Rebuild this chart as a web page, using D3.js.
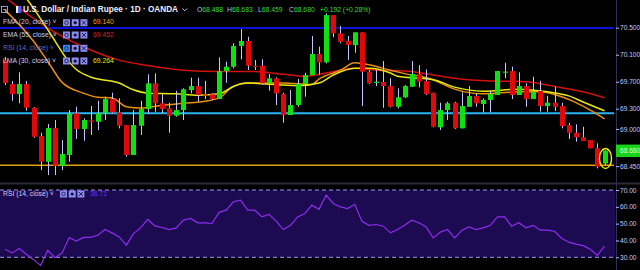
<!DOCTYPE html>
<html><head><meta charset="utf-8">
<script src="https://cdn.jsdelivr.net/npm/d3@7"></script>
<style>
html,body{margin:0;padding:0;background:#000;}
svg{display:block;}
text{font-family:"Liberation Sans",Arial,sans-serif;}
</style></head><body>
<svg id="c" width="640" height="270"></svg>
<script>
// ---------- DATA ----------
const opens = [70.021,69.666,69.517,69.666,69.314,68.895,68.514,69.014,68.455,68.614,69.231,68.999,69.128,69.107,69.231,69.443,69.246,69.058,68.614,69.048,69.295,69.676,69.380,69.306,69.196,69.280,69.577,69.636,69.513,69.513,69.443,69.858,69.922,70.229,70.303,69.937,69.937,69.676,69.750,69.517,69.206,69.354,69.666,69.799,70.110,69.987,70.688,70.417,70.307,70.243,70.431,69.848,69.690,69.695,69.636,69.329,69.469,69.626,69.814,69.710,69.537,69.024,69.280,69.389,69.009,69.329,69.488,69.369,69.429,69.503,69.840,69.858,69.503,69.636,69.443,69.562,69.340,69.389,69.340,69.058,68.944,68.876,68.836,68.713,68.488];
const highs = [70.066,69.710,69.839,69.710,69.325,68.944,69.073,69.132,68.836,69.280,69.329,69.157,69.340,69.418,69.477,69.537,69.454,69.058,69.280,69.418,69.809,69.824,69.517,69.389,69.566,69.602,69.759,69.759,69.714,69.528,70.061,69.996,70.269,70.480,70.366,70.021,70.031,69.814,69.765,69.537,69.577,69.740,69.833,70.377,70.218,70.713,70.688,70.525,70.377,70.431,70.431,69.873,69.873,70.006,69.750,69.602,69.650,70.006,69.947,69.883,69.537,69.389,69.403,69.403,69.543,69.636,69.528,69.454,69.562,69.858,69.981,69.922,69.839,69.676,69.774,69.714,69.492,69.626,69.389,69.092,69.069,69.033,68.836,68.787,68.683];
const lows = [69.651,69.418,69.380,69.270,68.870,68.391,68.317,68.317,68.391,68.514,68.851,68.826,68.910,68.984,69.132,69.231,69.009,68.589,68.614,68.910,69.231,69.255,69.236,68.944,69.181,69.132,69.528,69.403,69.443,69.429,69.443,69.685,69.898,70.031,69.873,69.873,69.651,69.566,69.354,69.092,69.206,69.329,69.477,69.799,69.799,69.972,70.357,70.269,70.021,70.129,69.340,69.666,69.636,69.314,69.320,69.306,69.460,69.626,69.617,69.503,69.024,68.984,69.132,68.999,69.009,69.329,69.329,69.246,69.246,69.503,69.750,69.443,69.503,69.329,69.443,69.255,69.255,69.266,69.009,68.851,68.811,68.821,68.713,68.417,68.459];
const closes = [69.680,69.517,69.666,69.314,68.885,68.514,69.014,68.455,68.629,69.231,68.999,69.132,69.107,69.231,69.443,69.246,69.048,68.614,69.058,69.295,69.676,69.380,69.295,69.196,69.280,69.587,69.636,69.503,69.503,69.443,69.858,69.922,70.229,70.303,69.937,69.922,69.676,69.750,69.528,69.206,69.354,69.666,69.799,70.110,69.987,70.688,70.417,70.292,70.243,70.431,69.848,69.676,69.700,69.636,69.329,69.469,69.636,69.814,69.700,69.517,69.033,69.280,69.380,69.009,69.340,69.488,69.380,69.429,69.518,69.858,69.850,69.503,69.636,69.443,69.551,69.340,69.389,69.329,69.043,68.944,68.876,68.821,68.713,68.440,68.680];
const rsi = [34.8,32.6,35.2,31.8,28.6,25.2,34.2,29.8,32.6,41.8,39.7,41.8,41.8,43.1,46.5,44.5,42.1,37.2,44.1,47.5,52.5,48.7,47.7,46.5,47.5,52.1,53.1,50.5,50.5,50.1,56.7,58,63,64,58,58,54,55.5,51.5,46.5,49,54,56,61,58.5,67,62,60,59,61.5,51.5,49,49.5,48.5,44.5,46.5,49,52,50.5,48,41.5,45,46.5,41.5,46,48,46.5,47.5,49,54,54,48.5,50.5,47.5,49,46.1,46.1,45.5,41.3,39.0,37.8,36.9,34.8,31.2,36.71];

const fmaIdx = [0,4,6,8,11,13,15,17,19,22,25,28,30,32,34,39,43,44,47,49,51,54,56,60,63,67,72,75,77,80,82,84];
const fmaVal = [70.76,70.30,70.00,69.69,69.53,69.47,69.46,69.33,69.31,69.35,69.38,69.41,69.46,69.63,69.68,69.68,69.66,69.74,69.87,69.98,69.95,69.87,69.82,69.73,69.59,69.52,69.55,69.55,69.51,69.39,69.28,69.15];
const lmaIdx = [2,3,6,9,10,12,16,18,20,24,27,30,32,34,39,41,44,46,49,51,54,55,60,63,67,72,76,79,81,84];
const lmaVal = [71.05,70.93,70.47,69.99,69.88,69.77,69.68,69.58,69.53,69.52,69.50,69.52,69.63,69.68,69.65,69.64,69.68,69.80,69.90,69.90,69.83,69.78,69.73,69.62,69.56,69.59,69.55,69.49,69.40,69.27];
const emaIdx = [0,7,12,16,20,25,30,35,39,42,45,49,52,56,60,63,68,73,76,78,81,84];
const emaVal = [70.95,70.43,70.17,70.02,69.94,69.87,69.85,69.85,69.81,69.78,69.83,69.90,69.87,69.86,69.80,69.75,69.71,69.70,69.65,69.61,69.55,69.46];

const levelValues = [70.495, 69.231, 68.462];
const priceTickLabels = ["70.500","70.100","69.700","69.300","69.000","68.450"];
const rsiTickLabels = ["70.00","60.00","50.00","40.00","30.00"];
const titleText = "U.S. Dollar / Indian Rupee · 1D · OANDA";
const ohlcLetters = ["O","H","L","C"];
const ohlcValues = ["68.488","68.683","68.459","68.680"];
const changeText = "+0.192 (+0.28%)";
const legendNames = ["FMA (20, close)","EMA (55, close)","RSI (14, close)","LMA (30, close)"];
const legendValues = ["69.140","69.452","","69.264"];
const rsiLegendName = "RSI (14, close)";
const rsiLegendValue = "36.71";
const lastPriceLabel = "68.680";

// ---------- LAYOUT ----------
const W = 640, H = 270, axisX = 616;
const svg = d3.select("#c");
svg.append("rect").attr("width",W).attr("height",H).attr("fill","#000");

const n = closes.length;
const x = d3.scaleLinear().domain([0, n-1]).range([5, 604.5]);
const y = d3.scaleLinear().domain([68.45, 70.5]).range([166.1, 27.7]);
const ry = d3.scaleLinear().domain([30, 70]).range([257.3, 190.0]);

const defs = svg.append("defs");
defs.append("clipPath").attr("id","pc").append("rect").attr("x",0).attr("y",0).attr("width",axisX-1).attr("height",182);
defs.append("clipPath").attr("id","rc").append("rect").attr("x",0).attr("y",185).attr("width",axisX-1).attr("height",85);

// RSI pane background
svg.append("rect").attr("x",0).attr("y",185).attr("width",axisX).attr("height",85).attr("fill","#000");
svg.append("rect").attr("x",0).attr("y",ry(70)).attr("width",axisX-1).attr("height",ry(30)-ry(70)).attr("fill","#1c0b50");
[70,30].forEach(v=>{
  svg.append("line").attr("x1",0).attr("x2",axisX-1).attr("y1",ry(v)).attr("y2",ry(v))
    .attr("stroke","#a395ee").attr("stroke-width",1).attr("stroke-dasharray","4,3");
});
// pane separator
svg.append("rect").attr("x",0).attr("y",182.5).attr("width",W).attr("height",2).attr("fill","#2a2a38");

// ---------- PRICE PANE ----------
const pg = svg.append("g").attr("clip-path","url(#pc)");
const levelColors = ["#0a14d8","#29b4f4","#e0a010"];
const levelWidths = [2,2,1.6];
levelValues.forEach((v,i)=>{
  pg.append("line").attr("x1",0).attr("x2",axisX-2).attr("y1",y(v)).attr("y2",y(v))
    .attr("stroke",levelColors[i]).attr("stroke-width",levelWidths[i]);
});

const lineGen = d3.line().curve(d3.curveMonotoneX).x(d=>x(d[0])).y(d=>y(d[1]));
function maLine(idx, vals, color){
  pg.append("path").datum(idx.map((d,i)=>[d, vals[i]]))
    .attr("d", lineGen).attr("fill","none").attr("stroke",color).attr("stroke-width",1.5);
}
maLine(emaIdx, emaVal, "#d21010");
maLine(fmaIdx, fmaVal, "#e8900c");
maLine(lmaIdx, lmaVal, "#e8e810");

const candles = d3.range(n).map(i=>({i, o:opens[i], h:highs[i], l:lows[i], c:closes[i]}));
const cg = pg.append("g");
cg.selectAll("line.w").data(candles).join("line").attr("class","w")
  .attr("x1",d=>Math.round(x(d.i))+0.5).attr("x2",d=>Math.round(x(d.i))+0.5)
  .attr("y1",d=>y(d.h)).attr("y2",d=>y(d.l))
  .attr("stroke","#c4c4ff").attr("stroke-width",1);
cg.selectAll("rect.b").data(candles).join("rect").attr("class","b")
  .attr("x",d=>Math.round(x(d.i))-2)
  .attr("width",5)
  .attr("y",d=>y(Math.max(d.o,d.c)))
  .attr("height",d=>Math.max(1.2, Math.abs(y(d.o)-y(d.c))))
  .attr("fill",d=>d.c>=d.o ? "#10e010" : "#e00808");

// highlight ellipse on last candle
svg.append("ellipse").attr("cx",x(n-1)+1).attr("cy",(y(highs[n-1])+y(lows[n-1]))/2+0.5)
  .attr("rx",6).attr("ry",10).attr("fill","none").attr("stroke","#f2f200").attr("stroke-width",1.4);

// ---------- RSI PANE ----------
const rg = svg.append("g").attr("clip-path","url(#rc)");
rg.append("path").datum(rsi)
  .attr("d", d3.line().x((d,i)=>x(i)).y(d=>ry(d)))
  .attr("fill","none").attr("stroke","#8f2cf0").attr("stroke-width",1.2);

// ---------- AXES ----------
svg.append("line").attr("x1",axisX+0.5).attr("x2",axisX+0.5).attr("y1",0).attr("y2",H)
  .attr("stroke","#2c3150").attr("stroke-width",1);
const pax = d3.axisRight(y).tickValues(priceTickLabels.map(Number))
  .tickFormat((d,i)=>priceTickLabels[i]).tickSize(3).tickPadding(1);
const ga = svg.append("g").attr("transform",`translate(${axisX},0)`).call(pax);
const rax = d3.axisRight(ry).tickValues(rsiTickLabels.map(Number))
  .tickFormat((d,i)=>rsiTickLabels[i]).tickSize(3).tickPadding(1);
const gr = svg.append("g").attr("transform",`translate(${axisX},0)`).call(rax);
[ga,gr].forEach(g=>{
  g.select(".domain").remove();
  g.selectAll(".tick line").attr("stroke","#b4b8ff");
  g.selectAll(".tick text").attr("fill","#c4c8ff").attr("font-size","6.6px")
    .attr("font-family","'Liberation Sans',Arial,sans-serif");
});

// last price label
svg.append("rect").attr("x",axisX).attr("y",y(closes[n-1])-6).attr("width",W-axisX).attr("height",12.5).attr("fill","#18d418");
svg.append("text").attr("x",axisX+4).attr("y",y(closes[n-1])+0.5).attr("dominant-baseline","middle")
  .attr("font-size","6.6px").attr("fill","#d4ffd4").text(lastPriceLabel);

// ---------- LEGEND / TITLE ----------
svg.append("rect").attr("x",1.5).attr("y",6.5).attr("width",6).attr("height",6).attr("fill","none").attr("stroke","#b8bcff").attr("stroke-width",0.8);
svg.append("line").attr("x1",3).attr("x2",6.5).attr("y1",9.5).attr("y2",9.5).attr("stroke","#b8bcff").attr("stroke-width",0.8);
svg.append("rect").attr("x",16).attr("y",6).attr("width",2.5).attr("height",7).attr("fill","#e8e8ff");
svg.append("rect").attr("x",18.5).attr("y",6).attr("width",3).attr("height",7).attr("fill","#4a56ff");
svg.append("text").attr("x",23).attr("y",10).attr("dominant-baseline","middle")
  .attr("font-size","9px").attr("font-weight","bold").attr("fill","#eeeeff")
  .attr("textLength",155).attr("lengthAdjust","spacingAndGlyphs").text(titleText);
// title chevron drawn as a path
svg.append("path").attr("d","M182.5,8.5L184.8,10.8L187.1,8.5").attr("fill","none")
  .attr("stroke","#dcdcff").attr("stroke-width",0.9);

const ohlcX = [197,227,258,289];
ohlcLetters.forEach((L,i)=>{
  const t = svg.append("text").attr("x",ohlcX[i]).attr("y",10).attr("dominant-baseline","middle").attr("font-size","6.8px");
  t.append("tspan").attr("fill","#b8c0ff").text(L);
  t.append("tspan").attr("fill","#3cd83c").text(ohlcValues[i]);
});
svg.append("text").attr("x",320).attr("y",10).attr("dominant-baseline","middle").attr("font-size","6.8px")
  .attr("fill","#3cd83c").text(changeText);

function icons(g, x0, yc, firstColor){
  const cols = [firstColor,"#8c8cf0","#8c8cf0"];
  cols.forEach((c,k)=>{
    const xx = x0 + k*8.7;
    g.append("rect").attr("x",xx).attr("y",yc-3.5).attr("width",7).attr("height",7).attr("fill",c);
  });
  g.append("circle").attr("cx",x0+3.5).attr("cy",yc).attr("r",1.8).attr("fill","none").attr("stroke","#111133").attr("stroke-width",0.8);
  g.append("circle").attr("cx",x0+8.7+3.5).attr("cy",yc).attr("r",1.6).attr("fill","#111133");
  g.append("path").attr("d",`M${x0+17.4+1.5},${yc-2}L${x0+17.4+5.5},${yc+2}M${x0+17.4+5.5},${yc-2}L${x0+17.4+1.5},${yc+2}`)
    .attr("stroke","#111133").attr("stroke-width",0.9);
}

const legendY = [22.7,35,48.3,61];
const legendColors = ["#ff9a10","#d82020","","#e6e600"];
legendNames.forEach((name,i)=>{
  const isRsi = name.startsWith("RSI");
  svg.append("text").attr("x",3).attr("y",legendY[i]).attr("dominant-baseline","middle")
    .attr("font-size","6.8px").attr("fill", isRsi ? "#6a6ac8" : "#c8ccf4").text(name + " ˅");
  icons(svg, 63, legendY[i], isRsi ? "#2f8cff" : "#8c8cf0");
  if (legendValues[i]) {
    svg.append("text").attr("x",93).attr("y",legendY[i]).attr("dominant-baseline","middle")
      .attr("font-size","6.8px").attr("fill",legendColors[i]).text(legendValues[i]);
  }
});

// RSI legend
svg.append("text").attr("x",3).attr("y",194).attr("dominant-baseline","middle")
  .attr("font-size","6.8px").attr("fill","#d0d0f6").text(rsiLegendName + " ˅");
icons(svg, 60, 194, "#8c8cf0");
svg.append("text").attr("x",90).attr("y",194).attr("dominant-baseline","middle")
  .attr("font-size","6.8px").attr("fill","#7a30f0").text(rsiLegendValue);
</script>
</body></html>
